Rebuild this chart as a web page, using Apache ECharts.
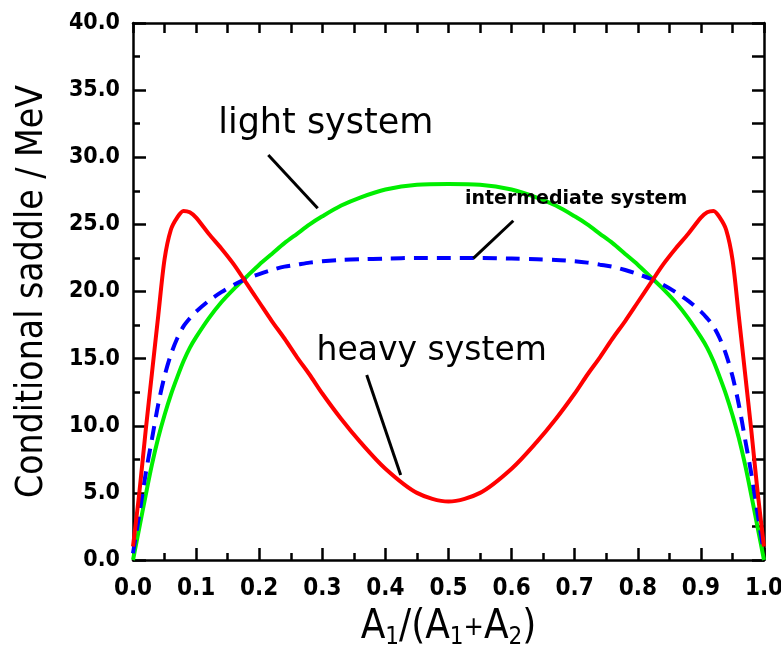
<!DOCTYPE html>
<html>
<head>
<meta charset="utf-8">
<title>Conditional saddle</title>
<script src="https://cdn.jsdelivr.net/npm/echarts@6/dist/echarts.min.js"></script>
<style>
  html, body { margin: 0; padding: 0; background: #fff; }
  #chart { width: 781px; height: 650px; }
</style>
</head>
<body>
<div id="chart"></div>
<script>
// Mass asymmetry A1/(A1+A2)
const asym = [0, 0.01, 0.02, 0.03, 0.04, 0.05, 0.06, 0.07, 0.08, 0.09, 0.10,
  0.12, 0.14, 0.16, 0.18, 0.20, 0.22, 0.24, 0.26, 0.28, 0.30, 0.33, 0.36, 0.40, 0.45, 0.50,
  0.55, 0.60, 0.64, 0.67, 0.70, 0.72, 0.74, 0.76, 0.78, 0.80, 0.82, 0.84, 0.86, 0.88, 0.90,
  0.91, 0.92, 0.93, 0.94, 0.95, 0.96, 0.97, 0.98, 0.99, 1.00];

// Conditional saddle heights (MeV)
const lightSystem = [0, 2.4, 4.8, 7.1, 9.1, 10.8, 12.3, 13.6, 14.8, 15.8, 16.6,
  18.0, 19.2, 20.2, 21.1, 22.0, 22.8, 23.6, 24.3, 25.0, 25.6, 26.4, 27.0, 27.6, 27.95, 28.0,
  27.95, 27.6, 27.0, 26.4, 25.6, 25.0, 24.3, 23.6, 22.8, 22.0, 21.1, 20.2, 19.2, 18.0, 16.6,
  15.8, 14.8, 13.6, 12.3, 10.8, 9.1, 7.1, 4.8, 2.4, 0];

const intermediateSystem = [0.5, 3.4, 6.4, 9.0, 11.6, 13.7, 15.3, 16.5, 17.4, 18.0, 18.5,
  19.3, 19.95, 20.5, 20.95, 21.3, 21.6, 21.85, 22.0, 22.15, 22.25, 22.35, 22.4, 22.45, 22.5, 22.5,
  22.5, 22.45, 22.4, 22.35, 22.25, 22.15, 22.0, 21.85, 21.6, 21.3, 20.95, 20.5, 19.95, 19.3, 18.5,
  18.0, 17.4, 16.5, 15.3, 13.7, 11.6, 9.0, 6.4, 3.4, 0.5];

const heavySystem = [1.0, 5.0, 9.6, 13.9, 18.2, 22.4, 24.6, 25.5, 26.0, 25.9, 25.5,
  24.3, 23.2, 22.0, 20.6, 19.2, 17.8, 16.5, 15.1, 13.8, 12.4, 10.5, 8.8, 6.8, 5.0, 4.35,
  5.0, 6.8, 8.8, 10.5, 12.4, 13.8, 15.1, 16.5, 17.8, 19.2, 20.6, 22.0, 23.2, 24.3, 25.5,
  25.9, 26.0, 25.5, 24.6, 22.4, 18.2, 13.9, 9.6, 5.0, 1.0];

// Curve labels: text, anchor (left edge, vertical middle) in data units
const labelTexts = ['light system', 'intermediate system', 'heavy system'];
const labelAnchors = [[0.135, 32.45], [0.526, 26.9], [0.291, 15.5]];

// Leader lines from each label to its curve, in data units
const leaderLines = [
  [[0.2144, 30.17], [0.2927, 26.2]],
  [[0.6027, 25.27], [0.5393, 22.47]],
  [[0.3704, 13.78], [0.4242, 6.33]]
];

const pairs = ys => asym.map((x, i) => [x, ys[i]]);

const condensed = "'DejaVu Sans Condensed', 'DejaVu Sans', sans-serif";
const regular = "'DejaVu Sans', sans-serif";
const labelStyles = [
  { fontFamily: regular, fontSize: 35, fontWeight: 'normal' },
  { fontFamily: regular, fontSize: 19, fontWeight: 'bold' },
  { fontFamily: regular, fontSize: 33, fontWeight: 'normal' }
];

const axisLine = { show: true, onZero: false, lineStyle: { color: '#000', width: 2.5 } };

const chart = echarts.init(document.getElementById('chart'), null, { renderer: 'canvas' });

chart.setOption({
  animation: false,
  backgroundColor: '#fff',
  grid: { left: 133, right: 17, top: 23, bottom: 90, containLabel: false, outerBoundsMode: 'none' },
  xAxis: [
    {
      type: 'value', position: 'bottom', min: 0, max: 1, interval: 0.1,
      axisLine: axisLine,
      axisTick: { show: true, inside: true, length: 12, lineStyle: { color: '#000', width: 2.5 } },
      minorTick: { show: true, splitNumber: 2, length: 7, lineStyle: { color: '#000', width: 2.5 } },
      splitLine: { show: false },
      axisLabel: {
        margin: 17, color: '#000', fontFamily: condensed, fontWeight: 'bold', fontSize: 24,
        formatter: v => v.toFixed(1)
      },
      name: '{a|A}{s|1}{a|/(A}{s|1}{p|+}{a|A}{s|2}{a|)}',
      nameLocation: 'middle',
      nameGap: 46,
      nameTextStyle: {
        rich: {
          a: { fontFamily: condensed, fontSize: 40, color: '#000', lineHeight: 44, verticalAlign: 'middle' },
          s: { fontFamily: condensed, fontSize: 24, color: '#000', lineHeight: 44, verticalAlign: 'bottom' },
          p: { fontFamily: condensed, fontSize: 27, color: '#000', lineHeight: 44, verticalAlign: 'middle' }
        }
      }
    },
    {
      type: 'value', position: 'top', min: 0, max: 1, interval: 0.05,
      axisLine: axisLine,
      axisTick: { show: true, inside: true, length: 10, lineStyle: { color: '#000', width: 2.5 } },
      axisLabel: { show: false },
      splitLine: { show: false }
    }
  ],
  yAxis: [
    {
      type: 'value', position: 'left', min: 0, max: 40, interval: 5,
      axisLine: axisLine,
      axisTick: { show: true, inside: true, length: 13, lineStyle: { color: '#000', width: 2.5 } },
      minorTick: { show: true, splitNumber: 2, length: 7, lineStyle: { color: '#000', width: 2.5 } },
      splitLine: { show: false },
      axisLabel: {
        margin: 13, color: '#000', fontFamily: condensed, fontWeight: 'bold', fontSize: 23,
        formatter: v => v.toFixed(1)
      },
      name: 'Conditional saddle / MeV',
      nameLocation: 'middle',
      nameGap: 82,
      nameTextStyle: { fontFamily: condensed, fontSize: 37, color: '#000' }
    },
    {
      type: 'value', position: 'right', min: 0, max: 40, interval: 2.5,
      axisLine: axisLine,
      axisTick: { show: true, inside: true, length: 12, lineStyle: { color: '#000', width: 2.5 } },
      axisLabel: { show: false },
      splitLine: { show: false }
    }
  ],
  series: [
    {
      name: 'light system', type: 'line', data: pairs(lightSystem),
      smooth: 0.3, showSymbol: false, z: 2,
      lineStyle: { color: '#00ee00', width: 4 }
    },
    {
      name: 'intermediate system', type: 'line', data: pairs(intermediateSystem),
      smooth: 0.3, showSymbol: false, z: 3,
      lineStyle: { color: '#0000ff', width: 4, type: [14, 9] }
    },
    {
      name: 'heavy system', type: 'line', data: pairs(heavySystem),
      smooth: 0.3, showSymbol: false, z: 4,
      lineStyle: { color: '#ff0000', width: 4 },
      markLine: {
        silent: true, symbol: ['none', 'none'], animation: false,
        label: { show: false },
        lineStyle: { color: '#000', width: 3, type: 'solid' },
        data: leaderLines.map(([a, b]) => [{ coord: a }, { coord: b }])
      },
      markPoint: {
        silent: true, symbol: 'circle', symbolSize: 0, animation: false,
        data: labelTexts.map((t, i) => ({
          coord: labelAnchors[i],
          label: Object.assign({
            show: true, position: 'right', distance: 0, color: '#000',
            formatter: t
          }, labelStyles[i])
        }))
      }
    }
  ]
});
</script>
</body>
</html>
